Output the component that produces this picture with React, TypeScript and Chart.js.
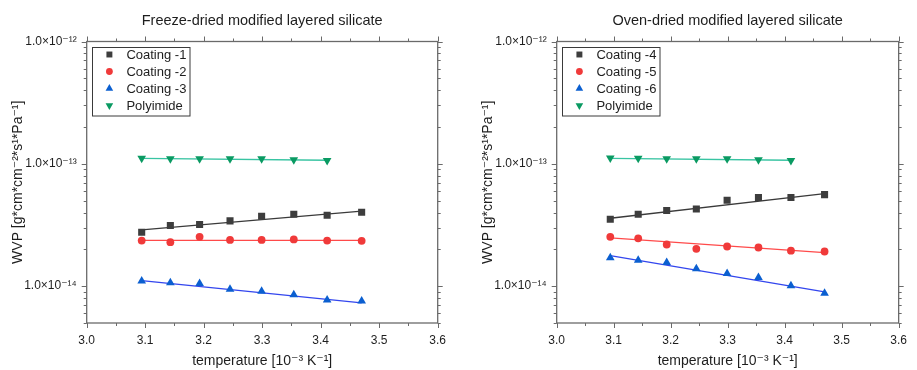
import React, { useEffect, useRef } from "react";
import { Chart, registerables } from "chart.js";
import { drawPoint } from "chart.js/helpers";

Chart.register(...registerables);

// ---------------- data ----------------
const X_MIN = 3.0;
const X_MAX = 3.6;
const X_STEP = 0.1;
const Y_MIN = 5e-15;
const Y_MAX = 1e-12;

const temperature = [3.094, 3.143, 3.193, 3.245, 3.299, 3.354, 3.411, 3.47];
const temperaturePolyimide = [3.094, 3.143, 3.193, 3.245, 3.299, 3.354, 3.411];
const fitRange = [3.094, 3.47];
const fitRangePolyimide = [3.094, 3.411];

// Freeze-dried
const coating1 = [2.76e-14, 3.13e-14, 3.19e-14, 3.42e-14, 3.73e-14, 3.87e-14, 3.8e-14, 4.02e-14];
const coating2 = [2.36e-14, 2.29e-14, 2.53e-14, 2.39e-14, 2.39e-14, 2.41e-14, 2.36e-14, 2.35e-14];
const coating3 = [1.1e-14, 1.066e-14, 1.05e-14, 9.45e-15, 9.1e-15, 8.5e-15, 7.7e-15, 7.55e-15];
const polyimideLeft = [1.113e-13, 1.1e-13, 1.098e-13, 1.098e-13, 1.098e-13, 1.078e-13, 1.064e-13];
const fit1 = [2.89e-14, 4.1e-14];
const fit2 = [2.37e-14, 2.37e-14];
const fit3 = [1.11e-14, 7.3e-15];
const fitPolyLeft = [1.11e-13, 1.07e-13];

// Oven-dried
const coating4 = [3.52e-14, 3.87e-14, 4.15e-14, 4.28e-14, 5.04e-14, 5.3e-14, 5.3e-14, 5.6e-14];
const coating5 = [2.53e-14, 2.46e-14, 2.19e-14, 2.02e-14, 2.11e-14, 2.07e-14, 1.95e-14, 1.92e-14];
const coating6 = [1.71e-14, 1.63e-14, 1.56e-14, 1.39e-14, 1.27e-14, 1.18e-14, 1.01e-14, 8.77e-15];
const polyimideRight = [1.115e-13, 1.11e-13, 1.1e-13, 1.1e-13, 1.1e-13, 1.08e-13, 1.064e-13];
const fit4 = [3.59e-14, 5.71e-14];
const fit5 = [2.48e-14, 1.88e-14];
const fit6 = [1.78e-14, 9.0e-15];
const fitPolyRight = [1.11e-13, 1.07e-13];

const leftLabels = ["Coating -1", "Coating -2", "Coating -3", "Polyimide"];
const rightLabels = ["Coating -4", "Coating -5", "Coating -6", "Polyimide"];
const leftTitle = "Freeze-dried modified layered silicate";
const rightTitle = "Oven-dried modified layered silicate";
const xAxisTitle = "temperature [10⁻³ K⁻¹]";
const yAxisTitle = "WVP [g*cm*cm⁻²*s¹*Pa⁻¹]";

// ---------------- styles ----------------
const FONT = "'Liberation Sans', Arial, 'DejaVu Sans', sans-serif";
const TEXT = "#1e1e1e";
const AXIS = "#6a6a6a";

const markerStyles = [
  { color: "#3d3d3d", line: "#3a3a3a", pointStyle: "rect", radius: 5, rotation: 0, legendRadius: 4.2 },
  { color: "#f03a3a", line: "#ff4a4a", pointStyle: "circle", radius: 3.9, rotation: 0, legendRadius: 3.4 },
  { color: "#0b5fd0", line: "#3346ee", pointStyle: "triangle", radius: 5, rotation: 0, legendRadius: 4.4 },
  { color: "#0a9a62", line: "#38c4a2", pointStyle: "triangle", radius: 5, rotation: 180, legendRadius: 4.4 },
];

const SUP: Record<string, string> = {
  "-": "⁻", "0": "⁰", "1": "¹", "2": "²", "3": "³", "4": "⁴",
  "5": "⁵", "6": "⁶", "7": "⁷", "8": "⁸", "9": "⁹",
};
const sup = (s: string) => s.split("").map((c) => SUP[c] ?? c).join("");
const isPow10 = (v: number) => {
  const l = Math.log10(v);
  return Math.abs(l - Math.round(l)) < 1e-9;
};

// ---------------- plugins ----------------
const framePlugin = {
  id: "frame",
  afterDraw(chart: any) {
    const { ctx, chartArea: a, scales } = chart;
    const xs = scales.x;
    const ys = scales.y;
    ctx.save();
    ctx.strokeStyle = AXIS;
    ctx.lineWidth = 1.3;
    ctx.strokeRect(a.left, a.top, a.right - a.left, a.bottom - a.top);
    ctx.lineWidth = 1;
    ctx.beginPath();
    const nX = Math.round((X_MAX - X_MIN) / (X_STEP / 2));
    for (let i = 0; i <= nX; i++) {
      const v = X_MIN + (i * X_STEP) / 2;
      const px = Math.round(xs.getPixelForValue(v)) + 0.5;
      const len = i % 2 === 0 ? 5 : 3;
      ctx.moveTo(px, a.bottom);
      ctx.lineTo(px, a.bottom + len);
      ctx.moveTo(px, a.top);
      ctx.lineTo(px, a.top - len);
    }
    const e0 = Math.floor(Math.log10(Y_MIN));
    const e1 = Math.ceil(Math.log10(Y_MAX));
    for (let e = e0; e <= e1; e++) {
      for (let m = 1; m <= 9; m++) {
        const v = m * Math.pow(10, e);
        if (v < Y_MIN * 0.999 || v > Y_MAX * 1.001) continue;
        const py = Math.round(ys.getPixelForValue(v)) + 0.5;
        const len = m === 1 ? 5 : 3;
        ctx.moveTo(a.left, py);
        ctx.lineTo(a.left - len, py);
        ctx.moveTo(a.right, py);
        ctx.lineTo(a.right + len, py);
      }
    }
    ctx.stroke();
    ctx.restore();
  },
};

const topTitlePlugin = {
  id: "topTitle",
  afterDraw(chart: any, _args: any, opts: any) {
    const { ctx, chartArea: a } = chart;
    ctx.save();
    ctx.fillStyle = TEXT;
    ctx.font = `14.5px ${FONT}`;
    ctx.textAlign = "center";
    ctx.textBaseline = "middle";
    ctx.fillText(opts.text, (a.left + a.right) / 2, opts.y);
    ctx.restore();
  },
};

const insetLegendPlugin = {
  id: "insetLegend",
  afterDraw(chart: any, _args: any, opts: any) {
    const { ctx, chartArea: a } = chart;
    const items = chart.data.datasets.filter((d: any) => !d.isFit);
    const x0 = a.left + opts.dx;
    const y0 = a.top + opts.dy;
    const rowH = 17;
    const w = opts.width;
    const h = items.length * rowH + 0.5;
    ctx.save();
    ctx.strokeStyle = "#3a3a3a";
    ctx.lineWidth = 1;
    ctx.fillStyle = "#fff";
    ctx.fillRect(x0, y0, w, h);
    ctx.strokeRect(Math.round(x0) + 0.5, Math.round(y0) + 0.5, w, h);
    items.forEach((d: any, i: number) => {
      const cy = y0 + 8 + i * rowH;
      ctx.fillStyle = d.backgroundColor;
      ctx.strokeStyle = d.backgroundColor;
      drawPoint(ctx, {
        pointStyle: d.pointStyle,
        radius: d.legendRadius,
        rotation: d.pointRotation || 0,
        borderWidth: 0,
      } as any, x0 + opts.markerX, cy);
      ctx.fillStyle = TEXT;
      ctx.font = `13px ${FONT}`;
      ctx.textAlign = "left";
      ctx.textBaseline = "middle";
      ctx.fillText(d.label, x0 + opts.textX, cy + 0.5);
    });
    ctx.restore();
  },
};

// ---------------- chart ----------------
type Series = { label: string; x: number[]; y: number[]; fitX: number[]; fitY: number[] };

function buildDatasets(series: Series[]) {
  const ds: any[] = [];
  series.forEach((s, i) => {
    const st = markerStyles[i];
    ds.push({
      label: s.label,
      data: s.x.map((xv, k) => ({ x: xv, y: s.y[k] })),
      pointStyle: st.pointStyle,
      pointRadius: st.radius,
      pointRotation: st.rotation,
      legendRadius: st.legendRadius,
      backgroundColor: st.color,
      borderColor: st.color,
      pointBorderWidth: 0,
      showLine: false,
      order: 0,
    });
    ds.push({
      label: s.label + " fit",
      isFit: true,
      data: s.fitX.map((xv, k) => ({ x: xv, y: s.fitY[k] })),
      borderColor: st.line,
      backgroundColor: st.line,
      borderWidth: 1.3,
      pointRadius: 0,
      showLine: true,
      fill: false,
      order: 1,
    });
  });
  return ds;
}

function Panel(props: {
  width: number;
  height: number;
  title: string;
  series: Series[];
  plotLeft: number;
  plotRight: number;
  plotTop: number;
  plotBottom: number;
  yTitlePad: number;
}) {
  const ref = useRef<HTMLCanvasElement | null>(null);
  useEffect(() => {
    if (!ref.current) return;
    const p = props;
    const chart = new Chart(ref.current, {
      type: "scatter",
      data: { datasets: buildDatasets(p.series) },
      options: {
        animation: false,
        responsive: false,
        devicePixelRatio: 1,
        layout: { padding: { left: 0, right: p.width - p.plotRight, top: p.plotTop, bottom: 0 } },
        plugins: {
          legend: { display: false },
          tooltip: { enabled: false },
          topTitle: { text: p.title, y: 20.7 },
          insetLegend: { dx: 5.2, dy: 5, width: 97.5, markerX: 17.5, textX: 34.5 },
        } as any,
        scales: {
          x: {
            type: "linear",
            min: X_MIN,
            max: X_MAX,
            afterFit: (s: any) => {
              s.height = p.height - p.plotBottom;
            },
            grid: { display: false, drawTicks: false, tickLength: 0 },
            border: { display: false },
            ticks: {
              stepSize: X_STEP,
              padding: 10,
              autoSkip: false,
              maxRotation: 0,
              color: TEXT,
              font: { size: 12, family: FONT },
              callback: (v: any) => Number(v).toFixed(1),
            },
            title: {
              display: true,
              text: xAxisTitle,
              color: TEXT,
              font: { size: 14, family: FONT },
              padding: { top: 0, bottom: 0 },
            },
          },
          y: {
            type: "logarithmic",
            min: Y_MIN,
            max: Y_MAX,
            afterFit: (s: any) => {
              s.width = p.plotLeft;
            },
            grid: { display: false, drawTicks: false, tickLength: 0 },
            border: { display: false },
            ticks: {
              padding: 10,
              autoSkip: false,
              color: TEXT,
              font: { size: 12, family: FONT },
              callback: (v: any) => {
                const n = Number(v);
                if (!isPow10(n)) return "";
                return "1.0×10" + sup(String(Math.round(Math.log10(n))));
              },
            },
            title: {
              display: true,
              text: yAxisTitle,
              color: TEXT,
              font: { size: 14, family: FONT },
              padding: { top: p.yTitlePad, bottom: 0 },
            },
          },
        },
      } as any,
      plugins: [framePlugin, topTitlePlugin, insetLegendPlugin],
    });
    return () => chart.destroy();
  }, []);
  return (
    <div style={{ width: props.width, height: props.height, position: "relative" }}>
      <canvas ref={ref} width={props.width} height={props.height} style={{ display: "block" }} />
    </div>
  );
}

export default function App() {
  const leftSeries: Series[] = [
    { label: leftLabels[0], x: temperature, y: coating1, fitX: fitRange, fitY: fit1 },
    { label: leftLabels[1], x: temperature, y: coating2, fitX: fitRange, fitY: fit2 },
    { label: leftLabels[2], x: temperature, y: coating3, fitX: fitRange, fitY: fit3 },
    { label: leftLabels[3], x: temperaturePolyimide, y: polyimideLeft, fitX: fitRangePolyimide, fitY: fitPolyLeft },
  ];
  const rightSeries: Series[] = [
    { label: rightLabels[0], x: temperature, y: coating4, fitX: fitRange, fitY: fit4 },
    { label: rightLabels[1], x: temperature, y: coating5, fitX: fitRange, fitY: fit5 },
    { label: rightLabels[2], x: temperature, y: coating6, fitX: fitRange, fitY: fit6 },
    { label: rightLabels[3], x: temperaturePolyimide, y: polyimideRight, fitX: fitRangePolyimide, fitY: fitPolyRight },
  ];
  return (
    <div
      style={{
        position: "absolute",
        left: 0,
        top: 0,
        width: 917,
        height: 370,
        display: "flex",
        background: "#ffffff",
        overflow: "hidden",
      }}
    >
      <Panel
        width={460}
        height={370}
        title={leftTitle}
        series={leftSeries}
        plotLeft={86.7}
        plotRight={437.7}
        plotTop={41.5}
        plotBottom={323}
        yTitlePad={9.6}
      />
      <Panel
        width={457}
        height={370}
        title={rightTitle}
        series={rightSeries}
        plotLeft={96.7}
        plotRight={447.7}
        plotTop={41.5}
        plotBottom={323}
        yTitlePad={19.6}
      />
    </div>
  );
}
